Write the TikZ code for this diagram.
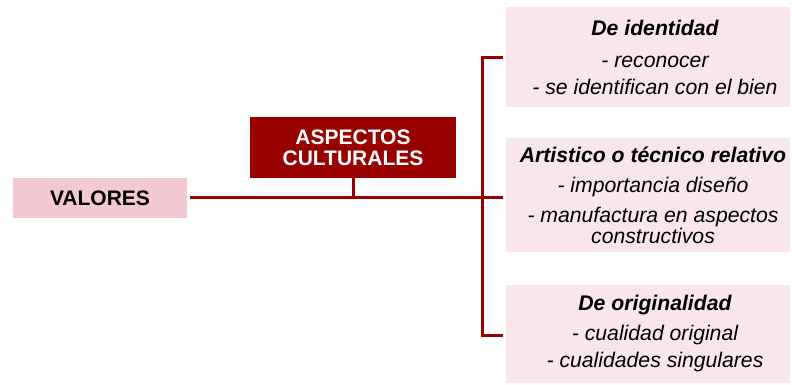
\documentclass[tikz,border=0pt]{standalone}
\usepackage{fontspec}
\setmainfont{Liberation Sans}
\definecolor{darkred}{HTML}{990000}
\definecolor{pinkA}{HTML}{F2C9D0}
\definecolor{pinkB}{HTML}{F9E6EA}
\begin{document}
\begin{tikzpicture}[x=1pt,y=-1pt,
  every node/.style={inner sep=0pt,outer sep=0pt},
  valbox/.style={fill=pinkA,minimum width=174pt,minimum height=40pt,font=\fontsize{21}{23}\selectfont\bfseries},
  aspbox/.style={fill=darkred,text=white,minimum width=206pt,minimum height=61pt,align=center,font=\fontsize{21}{21}\selectfont\bfseries},
  itembox/.style={fill=pinkB,minimum width=284pt},
  itemtext/.style={align=center,font=\fontsize{21.2}{21}\selectfont\itshape},
  conn/.style={draw=darkred,line width=3pt}]
\useasboundingbox (0,0) rectangle (792,384);
\node[valbox] (val) at (100,198) {VALORES};
\node[aspbox] (asp) at (353,147.5) {ASPECTOS\\CULTURALES};
\node[itembox,minimum height=100pt] (b1) at (648,57) {};
\node[itemtext] (t1) at ([xshift=7pt]b1.center)
  {\textbf{De identidad}\\[11pt]- reconocer\\[6pt]- se identifican con el bien};
\node[itembox,minimum height=114pt] (b2) at (648,195) {};
\node[itemtext] (t2) at ([xshift=5pt]b2.center)
  {\textbf{Artistico o técnico relativo}\\[9pt]- importancia diseño\\[9pt]- manufactura en aspectos\\constructivos};
\node[itembox,minimum height=98pt] (b3) at (648,334) {};
\node[itemtext] (t3) at ([xshift=7pt]b3.center)
  {\textbf{De originalidad}\\[9pt]- cualidad original\\[6pt]- cualidades singulares};
\coordinate (jn) at (482,197);
\draw[conn] ([xshift=3pt]val.east |- jn) -- (jn);
\draw[conn] ([yshift=3pt]asp.south) -- (asp.south |- jn);
\draw[conn] ([xshift=-3pt]b1.west) -| (jn) |- ([xshift=-3pt,yshift=-1pt]b3.west);
\draw[conn] (jn) -- ([xshift=-3pt]b2.west |- jn);
\end{tikzpicture}
\end{document}
